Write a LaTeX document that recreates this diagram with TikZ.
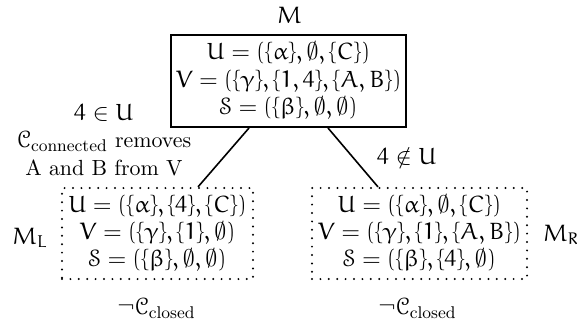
\documentclass[tikz,border=0pt,11pt]{standalone}
\usepackage{amsmath}
\IfFileExists{euler.sty}{\usepackage{euler}}{}
\IfFileExists{eucal.sty}{\usepackage{eucal}}{}
\DeclareMathSizes{10.95}{11.8}{8.5}{6.3}
\begin{document}
\begin{tikzpicture}[x=0.5pt,y=-0.5pt,
  solidbox/.style={draw,line width=1pt,align=center,inner sep=0pt,minimum height=46pt},
  dotbox/.style={draw,line width=1.1pt,line cap=round,dash pattern=on 0pt off 4.2pt,align=center,inner sep=0pt,minimum height=45.5pt},
  conn/.style={line width=0.8pt},
  lab/.style={inner sep=0pt,align=center}]
\useasboundingbox (0,0) rectangle (577,322);
\node[solidbox,minimum width=117.5pt] (top) at (288.5,81)
  {$U=(\{\alpha\},\emptyset,\{C\})$\\$V=(\{\gamma\},\{1,4\},\{A,B\})$\\$\mathcal{S}=(\{\beta\},\emptyset,\emptyset)$};
\node[dotbox,minimum width=95.5pt] (L) at (157.5,233.5)
  {$U=(\{\alpha\},\{4\},\{C\})$\\$V=(\{\gamma\},\{1\},\emptyset)$\\$\mathcal{S}=(\{\beta\},\emptyset,\emptyset)$};
\node[dotbox,minimum width=107.5pt] (R) at (419.5,233.5)
  {$U=(\{\alpha\},\emptyset,\{C\})$\\$V=(\{\gamma\},\{1\},\{A,B\})$\\$\mathcal{S}=(\{\beta\},\{4\},\emptyset)$};
\node[lab] (M) at (289.5,15) {$M$};
\node[lab] (ML) at (30,238) {$M_L$};
\node[lab] (MR) at (561,235) {$M_R$};
\node[lab] (CL) at (157,308) {$\neg\mathcal{C}_{\text{closed}}$};
\node[lab] (CR) at (418,308) {$\neg\mathcal{C}_{\text{closed}}$};
\node[lab] (ll) at (104,140) {$4\in U$\\$\mathcal{C}_{\text{connected}}$ removes\\A and B from V};
\node[lab] (rl) at (407,156) {$4\notin U$};
\draw[conn] ([xshift=-19.75pt]top.south) -- ([xshift=20.25pt]L.north);
\draw[conn] ([xshift=19.75pt]top.south) -- ([xshift=-20.75pt]R.north);
\end{tikzpicture}
\end{document}
